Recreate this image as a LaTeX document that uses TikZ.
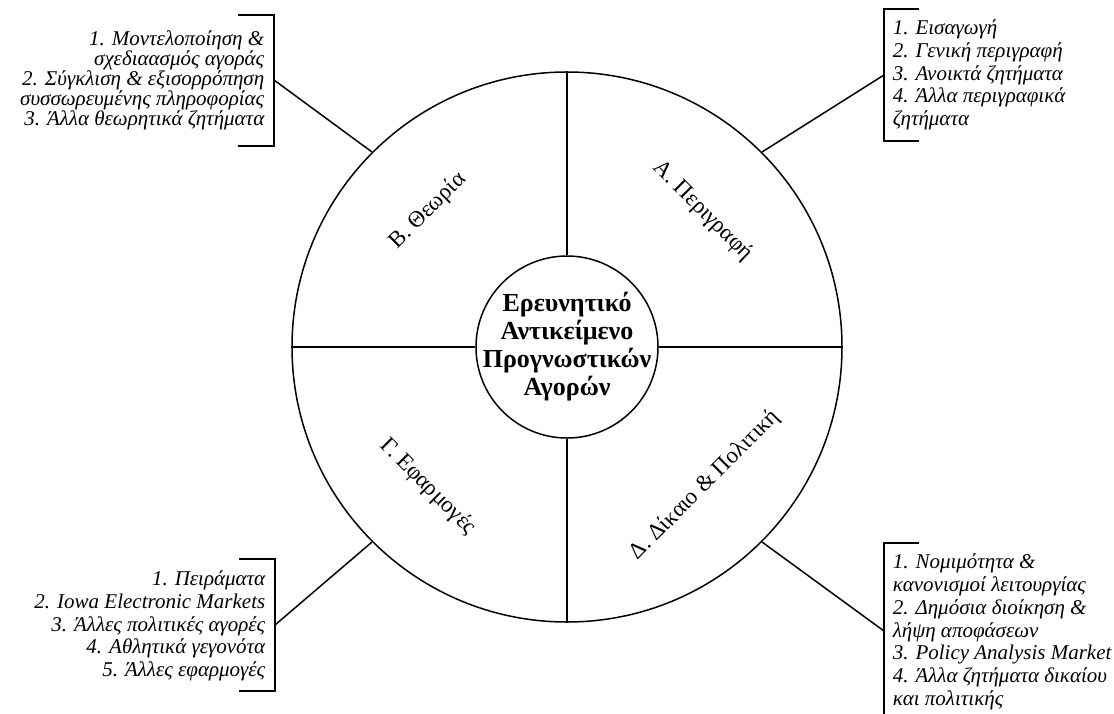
\documentclass[tikz,border=0pt]{standalone}
\usepackage{fontspec}
\setmainfont{Liberation Serif}
\usetikzlibrary{calc}

\tikzset{
	ring/.style={circle,draw,inner sep=0pt},
	part/.style={font=\fontsize{23}{26}\selectfont,inner sep=0pt},
	title/.style={font=\bfseries\fontsize{26}{28}\selectfont,align=center,inner sep=0pt},
	topic/.style={font=\itshape\fontsize{21}{22.8}\selectfont,inner sep=0pt},
	tighttopic/.style={topic,font=\itshape\fontsize{21}{20}\selectfont},
}

\begin{document}
\begin{tikzpicture}[x=1pt,y=-1pt,line width=1.5pt]
	% Frame
	\clip (0,0) rectangle (1114,713);
	% Coordinates
	\coordinate (O) at (567,347);
	\coordinate (brA) at (884,75);
	\coordinate (brB) at (274,80);
	\coordinate (brC) at (275,625);
	\coordinate (brD) at (884,631);
	% Rings
	\node[ring,minimum size=550pt] (rim) at (O) {};
	\node[ring,minimum size=182pt] (core) at (O) {};
	\node[title] (name) at (O) {Ερευνητικό\\Αντικείμενο\\Προγνωστικών\\Αγορών};
	% Cross
	\draw (rim.north) -- (core.north);
	\draw (rim.south) -- (core.south);
	\draw (rim.west) -- (core.west);
	\draw (rim.east) -- (core.east);
	% Sector labels
	\node[part,rotate=-45] (secA) at (703,211) {Α. Περιγραφή};
	\node[part,rotate=45] (secB) at (428,211) {Β. Θεωρία};
	\node[part,rotate=-45] (secC) at (428,487) {Γ. Εφαρμογές};
	\node[part,rotate=45] (secD) at (705,485) {Δ. Δίκαιο \& Πολιτική};
	% Brackets
	\draw (919,9) -- (884,9) -- (884,141) -- (919,141);
	\draw (238,15) -- (274,15) -- (274,146) -- (238,146);
	\draw (239,559) -- (275,559) -- (275,691) -- (239,691);
	\draw (919,543) -- (884,543) -- (884,720) -- (919,720);
	% Connectors
	\draw (rim.45) -- (brA);
	\draw (rim.135) -- (brB);
	\draw (rim.225) -- (brC);
	\draw (rim.315) -- (brD);
	% Lists
	\node[topic,anchor=west,align=left] (listA) at (892,75)
		{1. Εισαγωγή\\2. Γενική περιγραφή\\3. Ανοικτά ζητήματα\\4. Άλλα περιγραφικά\\ζητήματα};
	\node[tighttopic,anchor=east,align=right] (listB) at (265,80)
		{1. Μοντελοποίηση \&\\σχεδιαασμός αγοράς\\2. Σύγκλιση \& εξισορρόπηση\\συσσωρευμένης πληροφορίας\\3. Άλλα θεωρητικά ζητήματα};
	\node[topic,anchor=east,align=right] (listC) at (266,626)
		{1. Πειράματα\\2. Iowa Electronic Markets\\3. Άλλες πολιτικές αγορές\\4. Αθλητικά γεγονότα\\5. Άλλες εφαρμογές};
	\node[topic,anchor=west,align=left] (listD) at (892,632)
		{1. Νομιμότητα \&\\κανονισμοί λειτουργίας\\2. Δημόσια διοίκηση \&\\λήψη αποφάσεων\\3. Policy Analysis Market\\4. Άλλα ζητήματα δικαίου\\και πολιτικής};
\end{tikzpicture}
\end{document}
